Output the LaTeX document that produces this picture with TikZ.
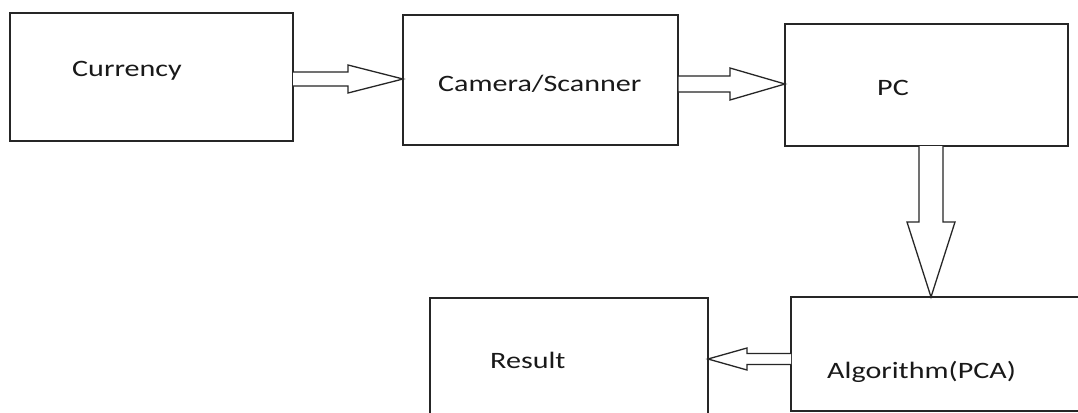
\documentclass[tikz,border=0pt]{standalone}
\usepackage{fontspec}
\setmainfont{Carlito}
\usetikzlibrary{calc}
\newcommand\stretchtxt[1]{\scalebox{1.28}[1]{#1}}
\tikzset{
  boxnode/.style={draw=black!85, line width=1.4pt, rectangle, inner sep=0pt, outer sep=0pt},
  lbl/.style={anchor=base west, inner sep=0pt, font=\fontsize{23.5}{28}\selectfont, text=black!90},
  blk/.style={draw=black!85, line width=1.3pt, fill=white, line join=miter}
}
\begin{document}
\begin{tikzpicture}[x=1pt,y=-1pt]
\useasboundingbox (0,0) rectangle (1078,412);
\fill[white] (0,0) rectangle (1078,412);
\clip (0,0) rectangle (1078,412);
% boxes
\node[boxnode, minimum width=283pt, minimum height=128pt] (cur) at (151.5,77) {};
\node[boxnode, minimum width=275pt, minimum height=130pt] (cam) at (540.5,80) {};
\node[boxnode, minimum width=283pt, minimum height=122pt] (pc) at (926.5,85) {};
\node[boxnode, minimum width=294pt, minimum height=114pt] (alg) at (938,354) {};
\node[boxnode, minimum width=278pt, minimum height=130pt] (res) at (569,363) {};
% labels
\node[lbl] (tcur) at (72,77) {\stretchtxt{Currency}};
\node[lbl] (tcam) at (438,92) {\stretchtxt{Camera/Scanner}};
\node[lbl] (tpc) at (877,95) {\stretchtxt{PC}};
\node[lbl] (tres) at (490,368) {\stretchtxt{Result}};
\node[lbl] (talg) at (827,378) {\stretchtxt{Algorithm(PCA)}};
% arrow 1: Currency -> Camera
\coordinate (a1t) at ($(cur.east)+(0,2)$);
\coordinate (a1h) at ($(cam.west)+(0,-1)$);
\draw[blk] ($(a1t)+(0,-7)$) -- ($(a1h)+(-55,-7)$) -- ($(a1h)+(-55,-14)$) -- (a1h)
  -- ($(a1h)+(-55,14)$) -- ($(a1h)+(-55,7)$) -- ($(a1t)+(0,7)$);
% arrow 2: Camera -> PC
\coordinate (a2t) at ($(cam.east)+(0,4)$);
\coordinate (a2h) at ($(pc.west)+(0,-1)$);
\draw[blk] ($(a2t)+(0,-8)$) -- ($(a2h)+(-55,-8)$) -- ($(a2h)+(-55,-16)$) -- (a2h)
  -- ($(a2h)+(-55,16)$) -- ($(a2h)+(-55,8)$) -- ($(a2t)+(0,8)$) -- cycle;
% arrow 3: PC -> Algorithm
\coordinate (a3t) at ($(pc.south)+(4.5,0)$);
\coordinate (a3h) at ($(alg.north west)+(140,0)$);
\draw[blk] ($(a3t)+(-12,0)$) -- ($(a3h)+(-12,-75)$) -- ($(a3h)+(-24,-75)$) -- (a3h)
  -- ($(a3h)+(24,-75)$) -- ($(a3h)+(12,-75)$) -- ($(a3t)+(12,0)$);
% arrow 4: Algorithm -> Result
\coordinate (a4t) at ($(alg.west)+(0,5)$);
\coordinate (a4h) at ($(res.east)+(0,-4)$);
\draw[blk] ($(a4t)+(0,-5.5)$) -- ($(a4h)+(39,-5.5)$) -- ($(a4h)+(39,-11)$) -- (a4h)
  -- ($(a4h)+(39,11)$) -- ($(a4h)+(39,5.5)$) -- ($(a4t)+(0,5.5)$);
\end{tikzpicture}
\end{document}
